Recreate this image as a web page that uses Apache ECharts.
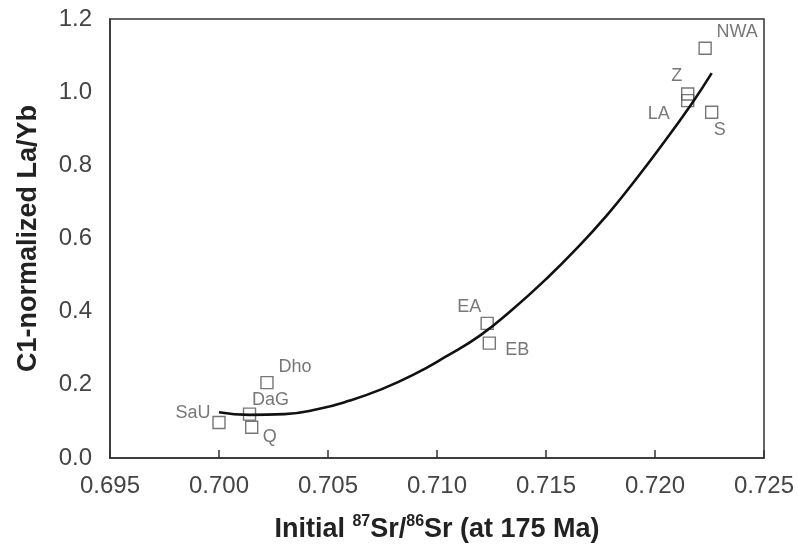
<!DOCTYPE html>
<html>
<head>
<meta charset="utf-8">
<script src="https://cdn.jsdelivr.net/npm/echarts@6/dist/echarts.min.js"></script>
<style>
  html, body { margin: 0; padding: 0; background: #fff; }
  #main { width: 798px; height: 552px; }
</style>
</head>
<body>
<div id="main"></div>
<script>
// samples (initial 87Sr/86Sr vs C1-normalized La/Yb)
const sampleNames = ["SaU", "DaG", "Q", "Dho", "EA", "EB", "LA", "Z", "S", "NWA"];
const sampleSr = [0.7000, 0.7014, 0.7015, 0.7022, 0.7123, 0.7124, 0.7215, 0.7215, 0.7226, 0.7223];
const sampleLaYb = [0.097, 0.120, 0.084, 0.206, 0.368, 0.314, 0.977, 0.995, 0.945, 1.120];

// fitted trend curve
const curveSr = [0.7000, 0.7014, 0.7030, 0.7045, 0.7060, 0.7075, 0.7089, 0.7104, 0.7120, 0.7135, 0.7150, 0.7163, 0.7178, 0.7191, 0.7202, 0.7217, 0.7226];
const curveLaYb = [0.125, 0.118, 0.120, 0.133, 0.157, 0.189, 0.227, 0.277, 0.336, 0.408, 0.489, 0.566, 0.664, 0.760, 0.846, 0.970, 1.052];

// label placement relative to each square (px)
const labelOffset = {
  SaU: [-26, -9], DaG: [21, -14], Q: [18, 10], Dho: [28, -16],
  EA: [-18, -16], EB: [28, 7], LA: [-29, 13], Z: [-11, -18],
  S: [8, 18], NWA: [32, -16]
};

const font = "'Liberation Sans', Arial, Helvetica, sans-serif";

const chart = echarts.init(document.getElementById("main"));

const points = sampleNames.map((name, i) => ({
  name: name,
  value: [sampleSr[i], sampleLaYb[i]],
  label: { offset: labelOffset[name] }
}));

const option = {
  animation: false,
  grid: {
    left: 110, right: 34, top: 19, bottom: 94,
    show: true, borderColor: "#333", borderWidth: 1.5,
    backgroundColor: "transparent"
  },
  xAxis: {
    type: "value",
    min: 0.695, max: 0.725, interval: 0.005,
    name: "Initial {sup|87}Sr/{sup|86}Sr (at 175 Ma)",
    nameLocation: "middle",
    nameGap: 56,
    nameTextStyle: {
      fontFamily: font, fontSize: 27, fontWeight: "bold", color: "#222",
      lineHeight: 32,
      rich: {
        sup: { fontFamily: font, fontSize: 16, fontWeight: "bold", color: "#222", verticalAlign: "top", lineHeight: 18 }
      }
    },
    axisLine: { lineStyle: { color: "#333", width: 1.5 } },
    axisTick: { show: true, inside: true, length: 8, lineStyle: { color: "#333", width: 1.5 } },
    axisLabel: {
      fontFamily: font, fontSize: 24, color: "#444", margin: 16,
      formatter: v => v.toFixed(3)
    },
    splitLine: { show: false }
  },
  yAxis: {
    type: "value",
    min: 0, max: 1.2, interval: 0.2,
    name: "C1-normalized La/Yb",
    nameLocation: "middle",
    nameGap: 68,
    nameTextStyle: { fontFamily: font, fontSize: 27, fontWeight: "bold", color: "#222" },
    axisLine: { show: true, lineStyle: { color: "#333", width: 1.5 } },
    axisTick: { show: false },
    axisLabel: {
      fontFamily: font, fontSize: 24, color: "#444", margin: 18,
      formatter: v => v.toFixed(1)
    },
    splitLine: { show: false }
  },
  series: [
    {
      type: "scatter",
      data: points,
      symbol: "rect",
      symbolSize: 12,
      itemStyle: { color: "rgba(255,255,255,0)", borderColor: "#555", borderWidth: 1.4 },
      label: {
        show: true,
        position: "inside",
        formatter: p => p.name,
        fontFamily: font, fontSize: 18, color: "#555"
      },
      emphasis: { disabled: true },
      z: 2
    },
    {
      type: "line",
      data: curveSr.map((x, i) => [x, curveLaYb[i]]),
      smooth: 0.5,
      showSymbol: false,
      lineStyle: { color: "#111", width: 2.6 },
      emphasis: { disabled: true },
      z: 3
    }
  ]
};

chart.setOption(option);
</script>
</body>
</html>
